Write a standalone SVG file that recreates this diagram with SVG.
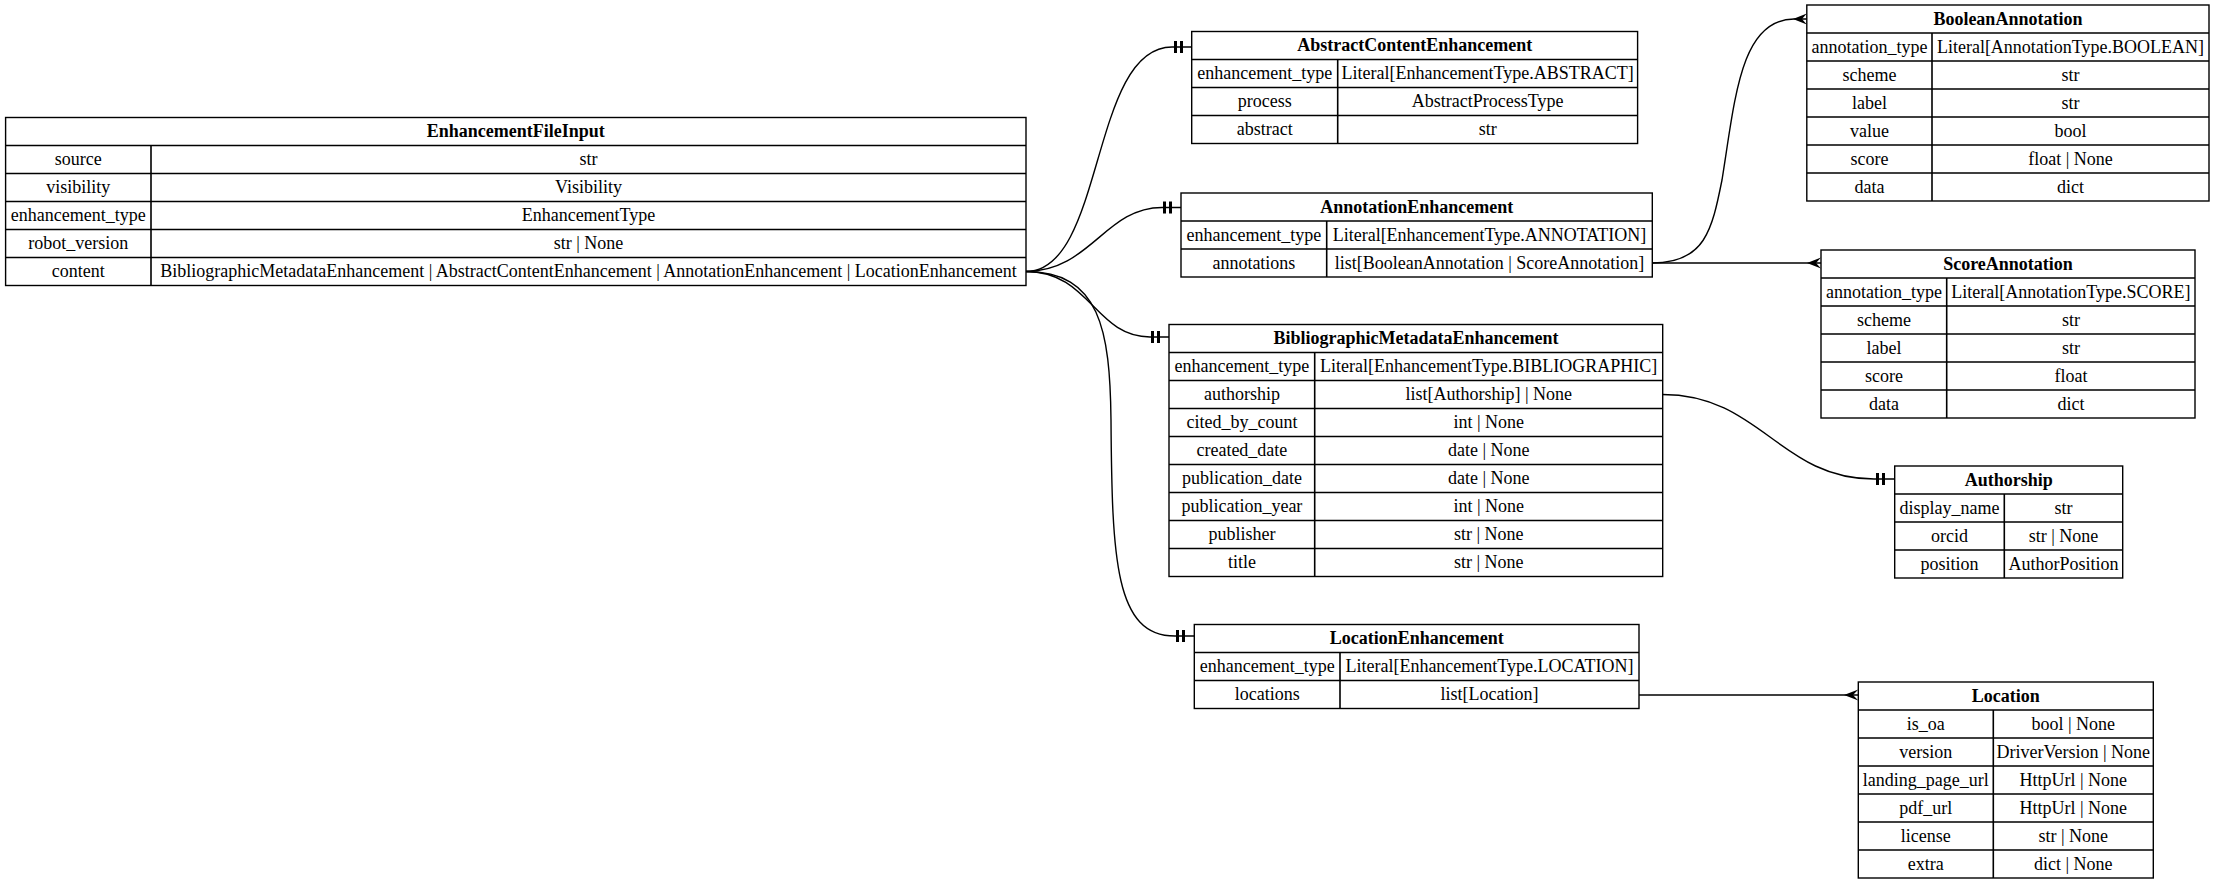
<svg xmlns="http://www.w3.org/2000/svg" width="2215" height="883" viewBox="0 0 2215 883">
<style>
.o{fill:#fff;stroke:#000;stroke-width:1.4}
.l{fill:none;stroke:#000;stroke-width:1.6}
text{font-family:"Liberation Serif","Times New Roman",serif;font-size:18px;text-anchor:middle;fill:#000}
.h{font-weight:bold}
.e{fill:none;stroke:#000;stroke-width:1.4}
.m{fill:#000;stroke:none}
</style>
<rect x="0" y="0" width="2215" height="883" fill="#fff"/>

<g id="connectors">
  <path class="e" d="M1026,271.5 C1105,271.5 1090,47 1172,47 L1191.7,47"/>
  <rect class="m" x="1174" y="41" width="3" height="12"/><rect class="m" x="1180" y="41" width="3" height="12"/>
  <path class="e" d="M1026,271.5 C1090,271.5 1105,207.5 1162,207.5 L1181,207.5"/>
  <rect class="m" x="1163" y="201.5" width="3" height="12"/><rect class="m" x="1169" y="201.5" width="3" height="12"/>
  <path class="e" d="M1026,271.5 C1090,271.5 1095,337 1150,337 L1169,337"/>
  <rect class="m" x="1151" y="331" width="3" height="12"/><rect class="m" x="1157" y="331" width="3" height="12"/>
  <path class="e" d="M1026,271.5 C1100,271.5 1110,330 1111,420 C1112,560 1115,636 1175,636 L1194.3,636"/>
  <rect class="m" x="1176" y="630" width="3" height="12"/><rect class="m" x="1182" y="630" width="3" height="12"/>
  <path class="e" d="M1652.3,263 C1705,263 1712,230 1722,180 C1735,100 1740,19 1794,19 L1806.8,19"/>
  <polygon class="m" points="1806.8,13.5 1793,19 1806.8,24.5 1802,19"/>
  <path class="e" d="M1652.3,263 L1821,263"/>
  <polygon class="m" points="1821,257.5 1807,263 1821,268.5 1816,263"/>
  <path class="e" d="M1662.7,394.5 C1760,394.5 1780,479 1874,479 L1894.7,479"/>
  <rect class="m" x="1876" y="473" width="3" height="12"/><rect class="m" x="1882" y="473" width="3" height="12"/>
  <path class="e" d="M1639,695 L1858.3,695"/>
  <polygon class="m" points="1858.3,689.5 1844,695 1858.3,700.5 1853,695"/>
</g>

<g id="EnhancementFileInput">
  <rect class="o" x="5.6" y="117.5" width="1020.4" height="168"/>
  <path class="l" d="M5.6,145.5H1026M5.6,173.5H1026M5.6,201.5H1026M5.6,229.5H1026M5.6,257.5H1026M151,145.5V285.5"/>
  <text class="h" x="515.8" y="137">EnhancementFileInput</text>
  <text x="78.3" y="165">source</text><text x="588.5" y="165">str</text>
  <text x="78.3" y="193">visibility</text><text x="588.5" y="193">Visibility</text>
  <text x="78.3" y="221">enhancement_type</text><text x="588.5" y="221">EnhancementType</text>
  <text x="78.3" y="249">robot_version</text><text x="588.5" y="249">str | None</text>
  <text x="78.3" y="277">content</text><text x="588.5" y="277">BibliographicMetadataEnhancement | AbstractContentEnhancement | AnnotationEnhancement | LocationEnhancement</text>
</g>

<g id="AbstractContentEnhancement">
  <rect class="o" x="1191.7" y="31.5" width="445.9" height="112"/>
  <path class="l" d="M1191.7,59.5H1637.6M1191.7,87.5H1637.6M1191.7,115.5H1637.6M1337.7,59.5V143.5"/>
  <text class="h" x="1414.7" y="51">AbstractContentEnhancement</text>
  <text x="1264.7" y="79">enhancement_type</text><text x="1487.7" y="79">Literal[EnhancementType.ABSTRACT]</text>
  <text x="1264.7" y="107">process</text><text x="1487.7" y="107">AbstractProcessType</text>
  <text x="1264.7" y="135">abstract</text><text x="1487.7" y="135">str</text>
</g>

<g id="AnnotationEnhancement">
  <rect class="o" x="1181" y="193" width="471.3" height="84"/>
  <path class="l" d="M1181,221H1652.3M1181,249H1652.3M1326.7,221V277"/>
  <text class="h" x="1416.7" y="212.5">AnnotationEnhancement</text>
  <text x="1253.9" y="240.5">enhancement_type</text><text x="1489.5" y="240.5">Literal[EnhancementType.ANNOTATION]</text>
  <text x="1253.9" y="268.5">annotations</text><text x="1489.5" y="268.5">list[BooleanAnnotation | ScoreAnnotation]</text>
</g>

<g id="BibliographicMetadataEnhancement">
  <rect class="o" x="1169" y="324.5" width="493.7" height="252"/>
  <path class="l" d="M1169,352.5H1662.7M1169,380.5H1662.7M1169,408.5H1662.7M1169,436.5H1662.7M1169,464.5H1662.7M1169,492.5H1662.7M1169,520.5H1662.7M1169,548.5H1662.7M1314.7,352.5V576.5"/>
  <text class="h" x="1415.9" y="344">BibliographicMetadataEnhancement</text>
  <text x="1241.9" y="372">enhancement_type</text><text x="1488.7" y="372">Literal[EnhancementType.BIBLIOGRAPHIC]</text>
  <text x="1241.9" y="400">authorship</text><text x="1488.7" y="400">list[Authorship] | None</text>
  <text x="1241.9" y="428">cited_by_count</text><text x="1488.7" y="428">int | None</text>
  <text x="1241.9" y="456">created_date</text><text x="1488.7" y="456">date | None</text>
  <text x="1241.9" y="484">publication_date</text><text x="1488.7" y="484">date | None</text>
  <text x="1241.9" y="512">publication_year</text><text x="1488.7" y="512">int | None</text>
  <text x="1241.9" y="540">publisher</text><text x="1488.7" y="540">str | None</text>
  <text x="1241.9" y="568">title</text><text x="1488.7" y="568">str | None</text>
</g>

<g id="LocationEnhancement">
  <rect class="o" x="1194.3" y="624.5" width="444.7" height="84"/>
  <path class="l" d="M1194.3,652.5H1639M1194.3,680.5H1639M1340,652.5V708.5"/>
  <text class="h" x="1416.7" y="644">LocationEnhancement</text>
  <text x="1267.2" y="672">enhancement_type</text><text x="1489.5" y="672">Literal[EnhancementType.LOCATION]</text>
  <text x="1267.2" y="700">locations</text><text x="1489.5" y="700">list[Location]</text>
</g>

<g id="BooleanAnnotation">
  <rect class="o" x="1806.8" y="5" width="402.2" height="196"/>
  <path class="l" d="M1806.8,33H2209M1806.8,61H2209M1806.8,89H2209M1806.8,117H2209M1806.8,145H2209M1806.8,173H2209M1932,33V201"/>
  <text class="h" x="2007.9" y="24.5">BooleanAnnotation</text>
  <text x="1869.4" y="52.5">annotation_type</text><text x="2070.5" y="52.5">Literal[AnnotationType.BOOLEAN]</text>
  <text x="1869.4" y="80.5">scheme</text><text x="2070.5" y="80.5">str</text>
  <text x="1869.4" y="108.5">label</text><text x="2070.5" y="108.5">str</text>
  <text x="1869.4" y="136.5">value</text><text x="2070.5" y="136.5">bool</text>
  <text x="1869.4" y="164.5">score</text><text x="2070.5" y="164.5">float | None</text>
  <text x="1869.4" y="192.5">data</text><text x="2070.5" y="192.5">dict</text>
</g>

<g id="ScoreAnnotation">
  <rect class="o" x="1821" y="250" width="374" height="168"/>
  <path class="l" d="M1821,278H2195M1821,306H2195M1821,334H2195M1821,362H2195M1821,390H2195M1946.7,278V418"/>
  <text class="h" x="2008" y="269.5">ScoreAnnotation</text>
  <text x="1883.9" y="297.5">annotation_type</text><text x="2070.9" y="297.5">Literal[AnnotationType.SCORE]</text>
  <text x="1883.9" y="325.5">scheme</text><text x="2070.9" y="325.5">str</text>
  <text x="1883.9" y="353.5">label</text><text x="2070.9" y="353.5">str</text>
  <text x="1883.9" y="381.5">score</text><text x="2070.9" y="381.5">float</text>
  <text x="1883.9" y="409.5">data</text><text x="2070.9" y="409.5">dict</text>
</g>

<g id="Authorship">
  <rect class="o" x="1894.7" y="466" width="228" height="112"/>
  <path class="l" d="M1894.7,494H2122.7M1894.7,522H2122.7M1894.7,550H2122.7M2004.3,494V578"/>
  <text class="h" x="2008.7" y="485.5">Authorship</text>
  <text x="1949.5" y="513.5">display_name</text><text x="2063.5" y="513.5">str</text>
  <text x="1949.5" y="541.5">orcid</text><text x="2063.5" y="541.5">str | None</text>
  <text x="1949.5" y="569.5">position</text><text x="2063.5" y="569.5">AuthorPosition</text>
</g>

<g id="Location">
  <rect class="o" x="1858.3" y="682" width="295" height="196"/>
  <path class="l" d="M1858.3,710H2153.3M1858.3,738H2153.3M1858.3,766H2153.3M1858.3,794H2153.3M1858.3,822H2153.3M1858.3,850H2153.3M1993.3,710V878"/>
  <text class="h" x="2005.8" y="701.5">Location</text>
  <text x="1925.8" y="729.5">is_oa</text><text x="2073.3" y="729.5">bool | None</text>
  <text x="1925.8" y="757.5">version</text><text x="2073.3" y="757.5">DriverVersion | None</text>
  <text x="1925.8" y="785.5">landing_page_url</text><text x="2073.3" y="785.5">HttpUrl | None</text>
  <text x="1925.8" y="813.5">pdf_url</text><text x="2073.3" y="813.5">HttpUrl | None</text>
  <text x="1925.8" y="841.5">license</text><text x="2073.3" y="841.5">str | None</text>
  <text x="1925.8" y="869.5">extra</text><text x="2073.3" y="869.5">dict | None</text>
</g>
</svg>
